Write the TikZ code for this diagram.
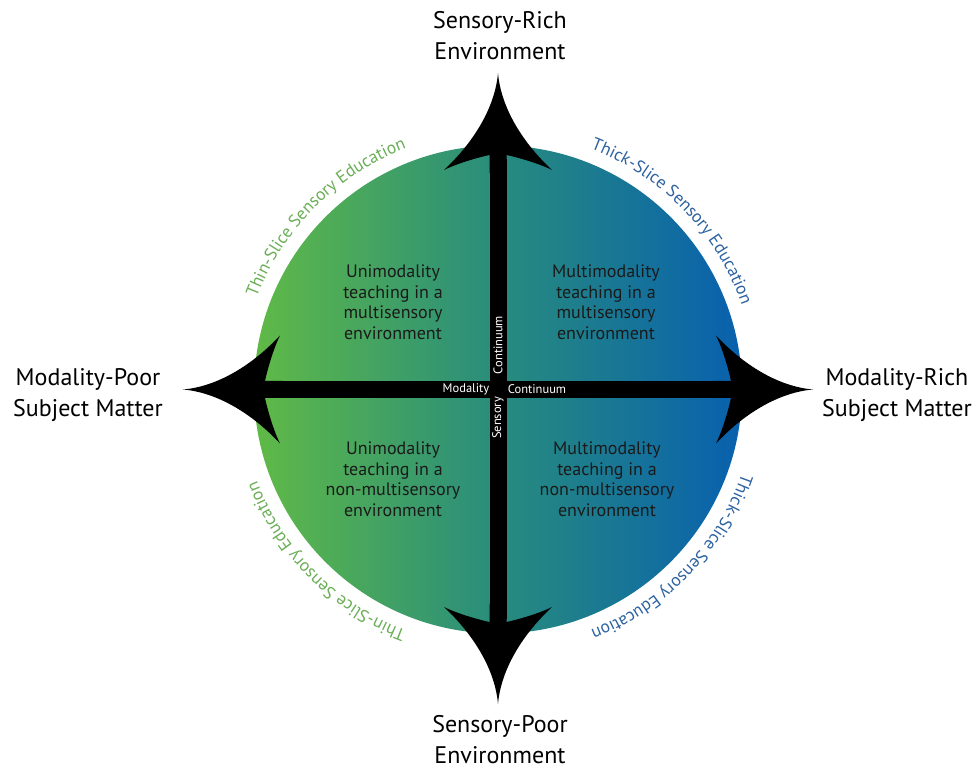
\documentclass[tikz,border=0pt]{standalone}
\usepackage{fontspec}
\setmainfont{PT Sans}
\usetikzlibrary{decorations.text}
\definecolor{lgreen}{RGB}{96,186,70}
\definecolor{mteal}{RGB}{40,140,125}
\definecolor{rblue}{RGB}{8,96,174}
\definecolor{thingreen}{RGB}{106,174,86}
\definecolor{thickblue}{RGB}{44,98,160}
\definecolor{quadink}{RGB}{26,26,26}
\begin{document}
\begin{tikzpicture}[x=1pt,y=1pt,
  quadtext/.style={align=center, text=quadink, inner sep=0pt, font=\fontsize{18}{20.5}\selectfont},
  axislabel/.style={align=center, text=black, inner sep=0pt, font=\fontsize{24}{31}\selectfont},
  barlabel/.style={text=white, inner sep=0pt, font=\fontsize{12.5}{14}\selectfont},
  headshape/.pic={
    \fill[black] (0,0) .. controls (3,-35) and (25,-70) .. (54,-97)
      .. controls (40,-90) and (18,-84) .. (8.5,-82) -- (8.5,-100) -- (-8.5,-100) -- (-8.5,-82)
      .. controls (-18,-84) and (-40,-90) .. (-54,-97)
      .. controls (-25,-70) and (-3,-35) .. (0,0) -- cycle;
  },
  arctext/.style 2 args={decorate, decoration={text along path, text align=center,
    text={|\color{#1}\fontsize{17.5}{20}\selectfont|#2}}}
]
\useasboundingbox (0,0) rectangle (978,769);
\coordinate (c) at (498,379.5);

% gradient disc
\shade[left color=lgreen, right color=rblue, middle color=mteal] (c) circle[radius=244];

% axis bars
\fill[black] (489.5,150) rectangle (506.5,610);
\fill[black] (270,371) rectangle (726,388);

% arrowheads
\pic at (498,696) {headshape};
\pic[rotate=180] at (498,65) {headshape};
\pic[rotate=90] at (183,379.5) {headshape};
\pic[rotate=-90] at (813,379.5) {headshape};

% quadrant texts
\node[quadtext] (ul) at (393,467) {Unimodality\\teaching in a\\multisensory\\environment};
\node[quadtext] (ur) at (606,467) {Multimodality\\teaching in a\\multisensory\\environment};
\node[quadtext] (ll) at (393,290) {Unimodality\\teaching in a\\non-multisensory\\environment};
\node[quadtext] (lr) at (607,290) {Multimodality\\teaching in a\\non-multisensory\\environment};

% axis end labels
\node[axislabel] (top) at (500,733) {Sensory-Rich\\Environment};
\node[axislabel] (bottom) at (500,29) {Sensory-Poor\\Environment};
\node[axislabel] (left) at (88,374) {Modality-Poor\\Subject Matter};
\node[axislabel] (right) at (897,374) {Modality-Rich\\Subject Matter};

% labels inside the bars
\node[barlabel] (modl) at (466,379.5) {Modality};
\node[barlabel] (modr) at (537,379.5) {Continuum};
\node[barlabel, rotate=90] (sensu) at (498,424) {Continuum};
\node[barlabel, rotate=90] (sensd) at (498,351) {Sensory};

% curved captions around the disc
\path[arctext={thingreen}{Thin-Slice Sensory Education}] ([shift={(170:258)}]c) arc[start angle=170, end angle=100, radius=258];
\path[arctext={thickblue}{Thick-Slice Sensory Education}] ([shift={(80:258)}]c) arc[start angle=80, end angle=8, radius=258];
\path[arctext={thickblue}{Thick-Slice Sensory Education}] ([shift={(-8:258)}]c) arc[start angle=-8, end angle=-80, radius=258];
\path[arctext={thingreen}{Thin-Slice Sensory Education}] ([shift={(-100:258)}]c) arc[start angle=-100, end angle=-170, radius=258];
\end{tikzpicture}
\end{document}
